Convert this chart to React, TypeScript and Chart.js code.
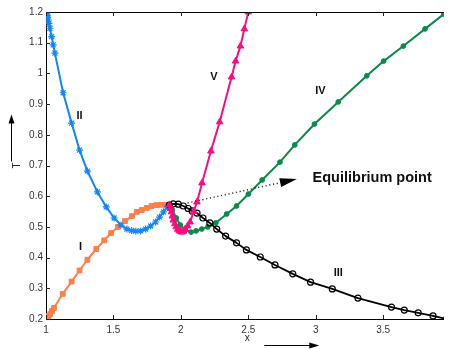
import React, { useEffect, useRef } from 'react';
import { Chart, registerables } from 'chart.js';

Chart.register(...registerables);

// ---- axis ticks ----
const xTicks = [1, 1.5, 2, 2.5, 3, 3.5];
const yTicks = [0.2, 0.3, 0.4, 0.5, 0.6, 0.7, 0.8, 0.9, 1, 1.1, 1.2];
const xRange = [1, 3.95];
const yRange = [0.2, 1.2];

// ---- curve I (orange, squares) ----
const curveIx = [1.0, 1.01, 1.02, 1.03, 1.044, 1.059, 1.124, 1.19, 1.249, 1.307, 1.373, 1.432, 1.483, 1.534, 1.586, 1.637, 1.673, 1.71, 1.747, 1.783, 1.82, 1.856, 1.89, 1.915];
const curveIy = [0.2, 0.205, 0.21, 0.216, 0.226, 0.236, 0.282, 0.322, 0.358, 0.393, 0.428, 0.456, 0.48, 0.5, 0.519, 0.535, 0.549, 0.555, 0.562, 0.568, 0.571, 0.572, 0.572, 0.571];

// ---- curve II (blue, asterisks) ----
const curveIIx = [1.0, 1.005, 1.009, 1.012, 1.016, 1.022, 1.029, 1.042, 1.053, 1.066, 1.127, 1.19, 1.249, 1.307, 1.381, 1.447, 1.505, 1.556, 1.6, 1.635, 1.666, 1.703, 1.739, 1.776, 1.813, 1.842, 1.871, 1.9, 1.915];
const curveIIy = [1.2, 1.198, 1.19, 1.183, 1.174, 1.163, 1.147, 1.12, 1.093, 1.066, 0.937, 0.838, 0.75, 0.682, 0.614, 0.565, 0.529, 0.506, 0.493, 0.488, 0.486, 0.487, 0.493, 0.503, 0.516, 0.532, 0.549, 0.565, 0.571];

// ---- curve III (black, open circles) ----
const curveIIIx = [1.915, 1.944, 1.981, 2.018, 2.054, 2.083, 2.12, 2.164, 2.215, 2.266, 2.332, 2.413, 2.486, 2.589, 2.698, 2.83, 2.962, 3.123, 3.313, 3.562, 3.657, 3.76, 3.87, 3.97];
const curveIIIy = [0.571, 0.575, 0.574, 0.568, 0.56, 0.552, 0.545, 0.529, 0.513, 0.493, 0.47, 0.448, 0.425, 0.402, 0.376, 0.347, 0.32, 0.298, 0.268, 0.239, 0.229, 0.22, 0.21, 0.2];

// ---- curve IV (green, dots) ----
const curveIVx = [1.915, 1.937, 1.966, 1.996, 2.032, 2.076, 2.113, 2.155, 2.2, 2.259, 2.34, 2.413, 2.501, 2.603, 2.735, 2.845, 2.991, 3.167, 3.379, 3.504, 3.65, 3.811, 3.95];
const curveIVy = [0.571, 0.555, 0.529, 0.506, 0.49, 0.483, 0.487, 0.493, 0.5, 0.513, 0.542, 0.568, 0.607, 0.653, 0.711, 0.767, 0.835, 0.907, 0.992, 1.04, 1.089, 1.145, 1.193];

// ---- curve V (pink, triangles) ----
const curveVx = [1.915, 1.922, 1.93, 1.937, 1.944, 1.955, 1.966, 1.977, 1.988, 2.0, 2.01, 2.021, 2.032, 2.05, 2.069, 2.095, 2.12, 2.157, 2.223, 2.288, 2.376, 2.406, 2.442, 2.471, 2.5];
const curveVy = [0.571, 0.56, 0.549, 0.535, 0.522, 0.51, 0.5, 0.492, 0.487, 0.484, 0.483, 0.486, 0.493, 0.503, 0.516, 0.55, 0.581, 0.643, 0.747, 0.842, 0.988, 1.04, 1.089, 1.145, 1.2];

// ---- annotations (data coordinates) ----
const curveLabels = ['I', 'II', 'III', 'IV', 'V'];
const curveLabelX = [1.256, 1.249, 3.167, 3.035, 2.245];
const curveLabelY = [0.435, 0.861, 0.35, 0.943, 0.988];
const eqText = 'Equilibrium point';
const eqTextX = 2.977;
const eqTextY = 0.659;
const eqArrowX = [2.05, 2.86];
const eqArrowY = [0.578, 0.656];

const FONT = '"Liberation Sans", Arial, Helvetica, sans-serif';

const pts = (xs: number[], ys: number[]) => xs.map((x, i) => ({ x, y: ys[i] }));

const annotPlugin = {
  id: 'annot',
  afterDatasetsDraw(chart: any) {
    const { ctx, chartArea: ca, scales } = chart;
    const xs = scales.x;
    const ys = scales.y;
    ctx.save();
    // frame top line
    ctx.strokeStyle = '#000';
    ctx.lineWidth = 1;
    ctx.beginPath();
    ctx.moveTo(ca.left, ca.top + 0.5);
    ctx.lineTo(ca.right, ca.top + 0.5);
    ctx.stroke();
    // inward ticks
    ctx.strokeStyle = '#222';
    ctx.beginPath();
    xTicks.forEach((v) => {
      const px = Math.round(xs.getPixelForValue(v)) + 0.5;
      ctx.moveTo(px, ca.bottom);
      ctx.lineTo(px, ca.bottom - 4);
      ctx.moveTo(px, ca.top);
      ctx.lineTo(px, ca.top + 4);
    });
    yTicks.forEach((v) => {
      const py = Math.round(ys.getPixelForValue(v)) + 0.5;
      ctx.moveTo(ca.left, py);
      ctx.lineTo(ca.left + 4, py);
    });
    ctx.stroke();

    // dotted arrow to equilibrium text
    const ax0 = xs.getPixelForValue(eqArrowX[0]);
    const ay0 = ys.getPixelForValue(eqArrowY[0]);
    const ax1 = xs.getPixelForValue(eqArrowX[1]);
    const ay1 = ys.getPixelForValue(eqArrowY[1]);
    const ang = Math.atan2(ay1 - ay0, ax1 - ax0);
    const headLen = 17;
    const headHalf = 4.5;
    const bx = ax1 - headLen * Math.cos(ang);
    const by = ay1 - headLen * Math.sin(ang);
    ctx.strokeStyle = '#333';
    ctx.lineWidth = 1.5;
    ctx.setLineDash([1.2, 2.6]);
    ctx.beginPath();
    ctx.moveTo(ax0, ay0);
    ctx.lineTo(bx, by);
    ctx.stroke();
    ctx.setLineDash([]);
    ctx.fillStyle = '#000';
    ctx.beginPath();
    ctx.moveTo(ax1, ay1);
    ctx.lineTo(bx - headHalf * Math.sin(ang), by + headHalf * Math.cos(ang));
    ctx.lineTo(bx + headHalf * Math.sin(ang), by - headHalf * Math.cos(ang));
    ctx.closePath();
    ctx.fill();

    // curve labels
    ctx.fillStyle = '#111';
    ctx.font = 'bold 11px ' + FONT;
    ctx.textAlign = 'center';
    ctx.textBaseline = 'middle';
    curveLabels.forEach((t, i) => {
      ctx.fillText(t, xs.getPixelForValue(curveLabelX[i]), ys.getPixelForValue(curveLabelY[i]));
    });
    ctx.font = 'bold 14.5px ' + FONT;
    ctx.textAlign = 'left';
    ctx.fillText(eqText, xs.getPixelForValue(eqTextX), ys.getPixelForValue(eqTextY));

    // axis titles with arrows
    ctx.fillStyle = '#222';
    ctx.font = '10px ' + FONT;
    ctx.textAlign = 'center';
    const midY = (ca.top + ca.bottom) / 2;
    ctx.save();
    ctx.translate(ca.left - 29, midY);
    ctx.rotate(-Math.PI / 2);
    ctx.fillText('T', 0, 0);
    ctx.restore();
    // T arrow
    const tx = ca.left - 34.5;
    ctx.strokeStyle = '#000';
    ctx.lineWidth = 1;
    ctx.beginPath();
    ctx.moveTo(tx, midY - 4);
    ctx.lineTo(tx, midY - 44);
    ctx.stroke();
    ctx.fillStyle = '#000';
    ctx.beginPath();
    ctx.moveTo(tx, midY - 51);
    ctx.lineTo(tx - 3, midY - 42);
    ctx.lineTo(tx + 3, midY - 42);
    ctx.closePath();
    ctx.fill();

    // x title
    const xMid = xs.getPixelForValue(2.5);
    ctx.fillStyle = '#222';
    ctx.fillText('x', xMid - 1, ca.bottom + 19);
    const ay = ca.bottom + 26.5;
    ctx.beginPath();
    ctx.moveTo(xMid + 16, ay);
    ctx.lineTo(xMid + 62, ay);
    ctx.stroke();
    ctx.fillStyle = '#000';
    ctx.beginPath();
    ctx.moveTo(xMid + 71, ay);
    ctx.lineTo(xMid + 61, ay - 3);
    ctx.lineTo(xMid + 61, ay + 3);
    ctx.closePath();
    ctx.fill();

    ctx.restore();
  },
};

export default function App() {
  const ref = useRef<HTMLCanvasElement | null>(null);

  useEffect(() => {
    if (!ref.current) return;
    Chart.defaults.font.family = FONT;
    const mk = (
      xs: number[],
      ys: number[],
      color: string,
      style: string,
      radius: number,
      fill: string,
      order: number,
      bw = 2,
      pbw = 1
    ) => ({
      data: pts(xs, ys),
      borderColor: color,
      backgroundColor: fill,
      borderWidth: bw,
      pointStyle: style,
      pointRadius: radius,
      pointBorderColor: color,
      pointBackgroundColor: fill,
      pointBorderWidth: pbw,
      tension: 0,
      order,
    });

    const chart = new Chart(ref.current, {
      type: 'line',
      data: {
        datasets: [
          mk(curveVx, curveVy, '#FF0A80', 'triangle', 3.8, '#FF0A80', 0),
          mk(curveIIIx, curveIIIy, '#000000', 'circle', 3, 'rgba(255,255,255,0)', 1, 1.8, 1.2),
          mk(curveIVx, curveIVy, '#0A8A48', 'circle', 2.4, '#0A8A48', 2),
          mk(curveIIx, curveIIy, '#1186F5', 'star', 3.5, '#1186F5', 3, 2, 1.2),
          mk(curveIx, curveIy, '#FF7F48', 'rect', 3.4, '#FF7F48', 4),
        ] as any,
      },
      options: {
        responsive: false,
        animation: false,
        devicePixelRatio: 1,
        layout: { padding: { top: 12, right: 0, left: 0, bottom: 0 } },
        plugins: { legend: { display: false }, tooltip: { enabled: false } },
        elements: { line: { borderCapStyle: 'round', borderJoinStyle: 'round' } },
        scales: {
          x: {
            type: 'linear',
            min: xRange[0],
            max: xRange[1],
            afterBuildTicks: (s: any) => {
              s.ticks = xTicks.map((v) => ({ value: v }));
            },
            afterFit: (s: any) => {
              s.height = 30;
            },
            grid: { display: false, drawTicks: false },
            border: { display: true, color: '#000', width: 1 },
            ticks: {
              padding: 5,
              color: '#333',
              font: { size: 10 },
              maxRotation: 0,
              autoSkip: false,
              callback: (v: any) => String(v),
            },
          },
          y: {
            type: 'linear',
            min: yRange[0],
            max: yRange[1],
            afterBuildTicks: (s: any) => {
              s.ticks = yTicks.map((v) => ({ value: v }));
            },
            afterFit: (s: any) => {
              s.width = 46;
            },
            grid: { display: false, drawTicks: false },
            border: { display: true, color: '#000', width: 1 },
            ticks: {
              padding: 3,
              color: '#333',
              font: { size: 10 },
              autoSkip: false,
              callback: (v: any) => String(v),
            },
          },
        },
      } as any,
      plugins: [annotPlugin],
    });
    return () => chart.destroy();
  }, []);

  return (
    <div style={{ position: 'absolute', left: 0, top: 0, width: 449, height: 349, background: '#fff' }}>
      <canvas ref={ref} width={449} height={349} style={{ display: 'block' }} />
    </div>
  );
}
